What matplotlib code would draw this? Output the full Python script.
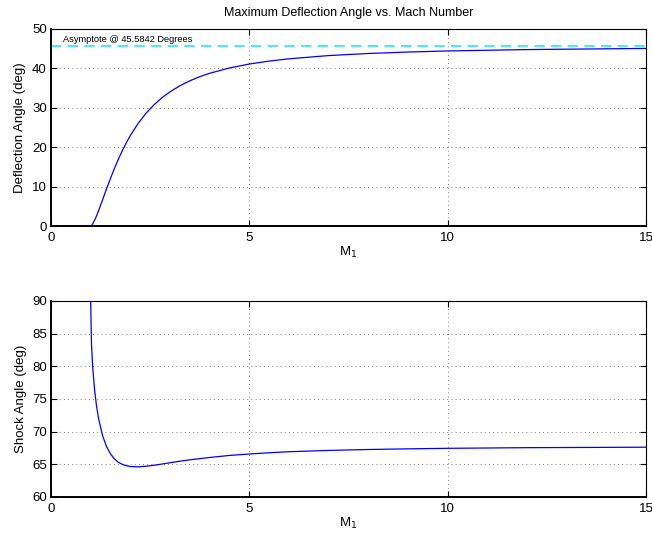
import matplotlib
matplotlib.use("Agg")
import matplotlib.pyplot as plt

plt.rcParams['font.family'] = ['Liberation Sans', 'DejaVu Sans']

# Mach number samples
mach = [1.0, 1.02, 1.05, 1.1, 1.15, 1.2, 1.3, 1.4, 1.5, 1.6, 1.7, 1.8, 1.9, 2.0,
        2.2, 2.4, 2.6, 2.8, 3.0, 3.25, 3.5, 3.75, 4.0, 4.5, 5.0, 5.5, 6.0, 7.0,
        8.0, 9.0, 10.0, 12.0, 15.0]
# Maximum deflection angle (deg)
theta_max = [0.0, 0.15, 0.56, 1.52, 2.65, 3.94, 6.66, 9.43, 12.11, 14.66, 17.01,
             19.18, 21.17, 22.97, 26.10, 28.68, 30.81, 32.59, 34.07, 35.61, 36.86,
             37.91, 38.77, 40.12, 41.12, 41.86, 42.44, 43.26, 43.79, 44.16, 44.43,
             44.78, 45.07]
# Shock angle at maximum deflection (deg)
beta_max = [90.0, 83.49, 79.93, 76.29, 73.83, 71.97, 69.40, 67.71, 66.59, 65.83,
            65.30, 64.99, 64.78, 64.67, 64.62, 64.71, 64.86, 65.05, 65.24, 65.48,
            65.69, 65.87, 66.05, 66.36, 66.58, 66.77, 66.93, 67.13, 67.27, 67.37,
            67.45, 67.55, 67.62]
asymptote = 45.5842

fig = plt.figure(figsize=(6.52, 5.37), dpi=100)
ax1 = fig.add_axes([0.0782, 0.579, 0.9128, 0.367])
ax2 = fig.add_axes([0.0782, 0.0745, 0.9128, 0.365])

def style(ax):
    ax.set_xlim(0, 15)
    ax.set_xticks([0, 5, 10, 15])
    ax.grid(True, color='#555555', linestyle=(0, (1, 4)), linewidth=0.6)
    ax.tick_params(direction='in', length=4, width=0.8, labelsize=9.5,
                   top=True, right=True, pad=3)
    ax.tick_params(axis='x', pad=4)
    for s in ['top', 'right']:
        ax.spines[s].set_linewidth(0.8)
    for s in ['left', 'bottom']:
        ax.spines[s].set_linewidth(1.4)
    ax.set_xlabel('M$_1$', fontsize=9.5, labelpad=1)

ax1.plot(mach, theta_max, color='blue', linewidth=0.9)
ax1.axhline(asymptote, color='#55e8e8', linestyle=(0, (5, 3)), linewidth=1.5, zorder=1)
ax1.text(0.3, 46.1, 'Asymptote @ 45.5842 Degrees', fontsize=6.7, va='bottom')
ax1.set_ylim(0, 50)
ax1.set_yticks(range(0, 51, 10))
ax1.set_ylabel('Deflection Angle (deg)', fontsize=9.5, labelpad=4)
ax1.set_title('Maximum Deflection Angle vs. Mach Number', fontsize=9, pad=9)
style(ax1)

ax2.plot(mach, beta_max, color='blue', linewidth=0.9)
ax2.set_ylim(60, 90)
ax2.set_yticks(range(60, 91, 5))
ax2.set_ylabel('Shock Angle (deg)', fontsize=9.5, labelpad=4)
style(ax2)

fig.savefig('out.png', dpi=100)
